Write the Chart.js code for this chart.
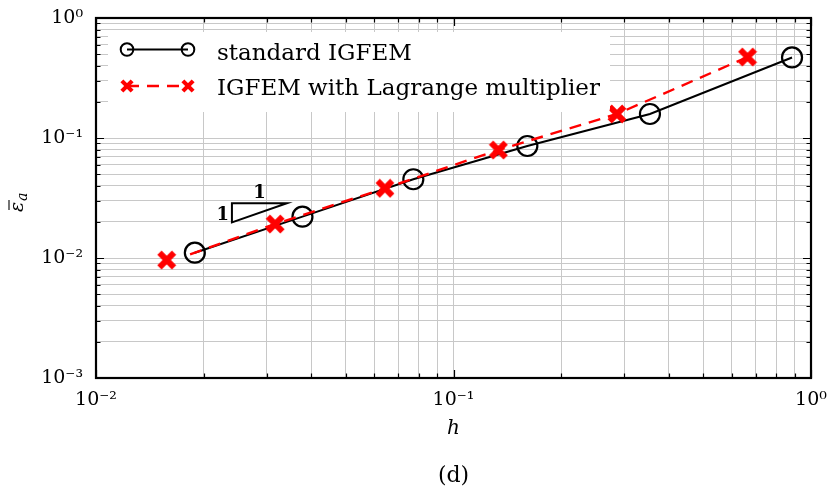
<!DOCTYPE html>
<html lang="en">
<head>
<meta charset="utf-8">
<title>IGFEM error vs mesh size</title>
<script src="https://cdn.jsdelivr.net/npm/chart.js"></script>
<style>
  html, body { margin: 0; padding: 0; background: #fff; }
</style>
</head>
<body>
<canvas id="errChart" width="827" height="490"></canvas>

<script>
    // standard IGFEM (black, open circles)
    const hStandard = [0.0189, 0.0378, 0.0772, 0.1609, 0.3544, 0.885];
    const errStandard = [0.01107, 0.0221, 0.0453, 0.0858, 0.1585, 0.469];

    // IGFEM with Lagrange multiplier (red crosses, dashed)
    const hLagrange = [0.01577, 0.0317, 0.0643, 0.1335, 0.2865, 0.6645];
    const errLagrange = [0.00962, 0.0192, 0.0381, 0.0794, 0.1585, 0.473];
    // the dashed line starts here, not at the first cross
    const lagrangeLineStart = [0.01833, 0.0107];

    // slope-1 triangle corners (h, error)
    const slopeH = [0.024, 0.0342];
    const slopeErr = [0.0198, 0.0286];

    // axis ticks
    const xMajor = [0.01, 0.1, 1];
    const xTickLabels = ['10\u207B\u00B2', '10\u207B\u00B9', '10\u2070'];
    const yMajor = [0.001, 0.01, 0.1, 1];
    const yTickLabels = ['10\u207B\u00B3', '10\u207B\u00B2', '10\u207B\u00B9', '10\u2070'];
    const minorSteps = [1, 2, 3, 4, 5, 6, 7, 8, 9];

    const legendLabels = ['standard IGFEM', 'IGFEM with Lagrange multiplier'];
    const caption = '(d)';

    const serif = "'DejaVu Serif', 'Liberation Serif', serif";
    const gridColor = '#c8c8c8';

    function gridValues(majors) {
        const out = [];
        for (let i = 0; i < majors.length - 1; i++) {
            minorSteps.forEach(m => out.push(majors[i] * m));
        }
        out.push(majors[majors.length - 1]);
        return out;
    }

    function isMajor(v, majors) {
        return majors.some(m => Math.abs(v / m - 1) < 1e-6);
    }

    // filled "X" marker
    function makeCross(size, thick) {
        const c = document.createElement('canvas');
        c.width = size; c.height = size;
        const g = c.getContext('2d');
        g.strokeStyle = '#ff0000';
        g.lineWidth = thick;
        g.lineCap = 'butt';
        const p = thick * 0.45;
        g.beginPath();
        g.moveTo(p, p); g.lineTo(size - p, size - p);
        g.moveTo(size - p, p); g.lineTo(p, size - p);
        g.stroke();
        return c;
    }
    const crossBig = makeCross(20, 6);
    const crossSmall = makeCross(14, 4.2);

    const standardPoints = hStandard.map((h, i) => ({x: h, y: errStandard[i]}));
    const lagrangePoints = hLagrange.map((h, i) => ({x: h, y: errLagrange[i]}));
    lagrangePoints.splice(1, 0, {x: lagrangeLineStart[0], y: lagrangeLineStart[1]});

    const decorations = {
        id: 'decorations',
        afterDatasetsDraw(chart) {
            const {ctx, chartArea: a, scales: {x, y}} = chart;
            ctx.save();
            // inward ticks on all four sides
            ctx.strokeStyle = '#000';
            ctx.lineWidth = 1.2;
            ctx.beginPath();
            gridValues(xMajor).forEach(v => {
                const px = Math.round(x.getPixelForValue(v)) + 0.5;
                const len = isMajor(v, xMajor) ? 8 : 4.5;
                ctx.moveTo(px, a.bottom); ctx.lineTo(px, a.bottom - len);
                ctx.moveTo(px, a.top); ctx.lineTo(px, a.top + len);
            });
            gridValues(yMajor).forEach(v => {
                const py = Math.round(y.getPixelForValue(v)) + 0.5;
                const len = isMajor(v, yMajor) ? 8 : 4.5;
                ctx.moveTo(a.left, py); ctx.lineTo(a.left + len, py);
                ctx.moveTo(a.right, py); ctx.lineTo(a.right - len, py);
            });
            ctx.stroke();

            // frame
            ctx.lineWidth = 2.2;
            ctx.strokeRect(a.left, a.top, a.right - a.left, a.bottom - a.top);

            // slope triangle
            const x0 = x.getPixelForValue(slopeH[0]), x1 = x.getPixelForValue(slopeH[1]);
            const y0 = y.getPixelForValue(slopeErr[0]), y1 = y.getPixelForValue(slopeErr[1]);
            ctx.lineWidth = 2;
            ctx.lineJoin = 'miter';
            ctx.beginPath();
            ctx.moveTo(x0, y0); ctx.lineTo(x0, y1); ctx.lineTo(x1, y1); ctx.closePath();
            ctx.stroke();
            ctx.fillStyle = '#000';
            ctx.font = 'bold 18px ' + serif;
            ctx.textAlign = 'center';
            ctx.textBaseline = 'alphabetic';
            ctx.fillText('1', (x0 + x1) / 2, y1 - 5);
            ctx.textAlign = 'right';
            ctx.fillText('1', x0 - 3, (y0 + y1) / 2 + 7);
            ctx.restore();
        },
        afterDraw(chart) {
            const {ctx, chartArea: a} = chart;
            ctx.save();
            // legend box
            ctx.fillStyle = '#fff';
            ctx.beginPath();
            ctx.roundRect(108, 32, 502, 80, 4);
            ctx.fill();

            const lx0 = 127, lx1 = 188, rows = [49.5, 86];
            // standard IGFEM
            ctx.strokeStyle = '#000';
            ctx.lineWidth = 2;
            ctx.beginPath();
            ctx.moveTo(lx0, rows[0]); ctx.lineTo(lx1, rows[0]);
            ctx.stroke();
            [lx0, lx1].forEach(px => {
                ctx.beginPath();
                ctx.arc(px, rows[0], 6.3, 0, Math.PI * 2);
                ctx.stroke();
            });
            // Lagrange
            ctx.strokeStyle = '#ff0000';
            ctx.lineWidth = 2.4;
            ctx.setLineDash([12, 8]);
            ctx.beginPath();
            ctx.moveTo(lx0, rows[1]); ctx.lineTo(lx1, rows[1]);
            ctx.stroke();
            ctx.setLineDash([]);
            [lx0, lx1].forEach(px => {
                ctx.drawImage(crossSmall, px - crossSmall.width / 2, rows[1] - crossSmall.height / 2);
            });

            ctx.fillStyle = '#000';
            ctx.font = '23px ' + serif;
            ctx.textAlign = 'left';
            ctx.textBaseline = 'alphabetic';
            ctx.fillText(legendLabels[0], 217, 59.5);
            ctx.fillText(legendLabels[1], 217, 94.5);

            // y axis title: epsilon bar, subscript a
            ctx.save();
            ctx.translate(23, (a.top + a.bottom) / 2 + 5);
            ctx.rotate(-Math.PI / 2);
            ctx.textAlign = 'left';
            ctx.fillStyle = '#000';
            ctx.strokeStyle = '#000';
            ctx.font = 'italic 19px ' + serif;
            const ew = ctx.measureText('\u03B5').width;
            ctx.fillText('\u03B5', -ew / 2 - 4, 0);
            ctx.lineWidth = 1.1;
            ctx.beginPath();
            ctx.moveTo(-ew / 2 - 2, -14); ctx.lineTo(ew / 2 - 2, -14);
            ctx.stroke();
            ctx.font = 'italic 14px ' + serif;
            ctx.fillText('a', ew / 2 - 3, 4);
            ctx.restore();

            // caption
            ctx.font = '22px ' + serif;
            ctx.textAlign = 'center';
            ctx.textBaseline = 'middle';
            ctx.fillText(caption, (a.left + a.right) / 2, 476);
            ctx.restore();
        }
    };

    new Chart(document.getElementById('errChart'), {
        type: 'line',
        data: {
            datasets: [{
                label: legendLabels[0],
                data: standardPoints,
                borderColor: '#000',
                borderWidth: 2,
                pointStyle: 'circle',
                pointRadius: 10,
                pointBorderWidth: 2.2,
                pointBorderColor: '#000',
                pointBackgroundColor: 'rgba(0,0,0,0)',
                fill: false,
                order: 2
            }, {
                label: legendLabels[1],
                data: lagrangePoints,
                borderColor: '#ff0000',
                borderWidth: 2.4,
                borderDash: [12, 8],
                segment: {
                    borderColor: c => c.p0DataIndex === 0 ? 'rgba(0,0,0,0)' : '#ff0000'
                },
                pointStyle: crossBig,
                pointRadius: lagrangePoints.map((p, i) => i === 1 ? 0 : 9),
                fill: false,
                order: 1
            }]
        },
        options: {
            responsive: false,
            animation: false,
            events: [],
            layout: { padding: { left: 0, right: 16, top: 18, bottom: 0 } },
            scales: {
                x: {
                    type: 'logarithmic',
                    min: 0.01,
                    max: 1,
                    afterBuildTicks: s => { s.ticks = gridValues(xMajor).map(v => ({value: v})); },
                    afterFit: s => { s.height = 112; s.paddingLeft = 0; s.paddingRight = 0; },
                    grid: { color: gridColor, lineWidth: 1, drawTicks: false },
                    border: { display: false },
                    ticks: {
                        autoSkip: false,
                        maxRotation: 0,
                        padding: 11,
                        color: '#000',
                        font: { family: serif, size: 19 },
                        callback: v => {
                            const i = xMajor.findIndex(m => Math.abs(v / m - 1) < 1e-6);
                            return i >= 0 ? xTickLabels[i] : '';
                        }
                    },
                    title: {
                        display: true,
                        text: 'h',
                        color: '#000',
                        font: { family: serif, size: 20, style: 'italic' },
                        padding: { top: 0, bottom: 49 }
                    }
                },
                y: {
                    type: 'logarithmic',
                    min: 0.001,
                    max: 1,
                    afterBuildTicks: s => { s.ticks = gridValues(yMajor).map(v => ({value: v})); },
                    afterFit: s => { s.width = 96; s.paddingTop = 0; s.paddingBottom = 0; },
                    grid: { color: gridColor, lineWidth: 1, drawTicks: false },
                    border: { display: false },
                    ticks: {
                        autoSkip: false,
                        padding: 13,
                        color: '#000',
                        font: { family: serif, size: 19 },
                        callback: v => {
                            const i = yMajor.findIndex(m => Math.abs(v / m - 1) < 1e-6);
                            return i >= 0 ? yTickLabels[i] : '';
                        }
                    }
                }
            },
            plugins: {
                legend: { display: false },
                tooltip: { enabled: false },
                title: { display: false }
            }
        },
        plugins: [decorations]
    });
</script>
</body>
</html>
